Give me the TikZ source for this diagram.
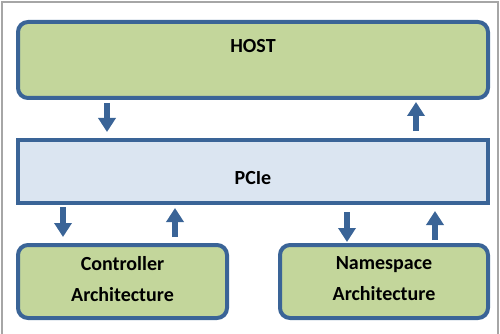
\documentclass[tikz,border=0pt]{standalone}
\usepackage{fontspec}
\setmainfont{Carlito}
\usepackage{xcolor}
\usepackage{tikz}
\usetikzlibrary{arrows.meta}

\definecolor{boxgreen}{HTML}{C3D69B}
\definecolor{boxblue}{HTML}{DBE5F1}
\definecolor{edgeblue}{HTML}{3A6497}

\begin{document}
\begin{tikzpicture}[x=1pt, y=-1pt,
  blk/.style={draw=edgeblue, line width=4pt, fill=boxgreen, rounded corners=10pt,
    inner sep=0pt, font=\fontsize{20}{31}\selectfont\bfseries},
  bus/.style={blk, fill=boxblue, rounded corners=0pt},
  arr/.style={draw=edgeblue, line width=6.5pt,
    -{Triangle[width=17pt, length=14pt]}},
  frame/.style={draw=gray!70, line width=1.3pt},
]
\useasboundingbox (0,0) rectangle (500,334);
\draw[frame] (2,336) -- (2,2) -- (498,2) -- (498,336);
\node[blk, minimum width=470pt, minimum height=76pt, text height=31pt,
  text depth=45pt] (host) at (253,60) {HOST};
\node[bus, minimum width=470pt, minimum height=63pt, text height=44pt,
  text depth=19pt] (pcie) at (253,171.5) {PCIe};
\node[blk, minimum width=209pt, minimum height=73pt, align=center, text depth=6pt]
  (ctrl) at (122.5,281.5) {Controller\\Architecture};
\node[blk, minimum width=208pt, minimum height=73pt, align=center, text depth=6pt]
  (ns) at (384,281.5) {Namespace\\Architecture};
\draw[arr, shorten <=3pt, shorten >=6pt] ([xshift=-146pt]host.south) -- ([xshift=-146pt]pcie.north);
\draw[arr, shorten <=7pt, shorten >=2pt] ([xshift=163pt]pcie.north) -- ([xshift=163pt]host.south);
\draw[arr, shorten <=2pt, shorten >=6pt] ([xshift=-59.5pt]ctrl.north |- pcie.south) -- ([xshift=-59.5pt]ctrl.north);
\draw[arr, shorten <=6pt, shorten >=3pt] ([xshift=52.5pt]ctrl.north) -- ([xshift=52.5pt]ctrl.north |- pcie.south);
\draw[arr, shorten <=7pt, shorten >=1pt] ([xshift=-37pt]ns.north |- pcie.south) -- ([xshift=-37pt]ns.north);
\draw[arr, shorten <=3pt, shorten >=6pt] ([xshift=51pt]ns.north) -- ([xshift=51pt]ns.north |- pcie.south);
\end{tikzpicture}
\end{document}
